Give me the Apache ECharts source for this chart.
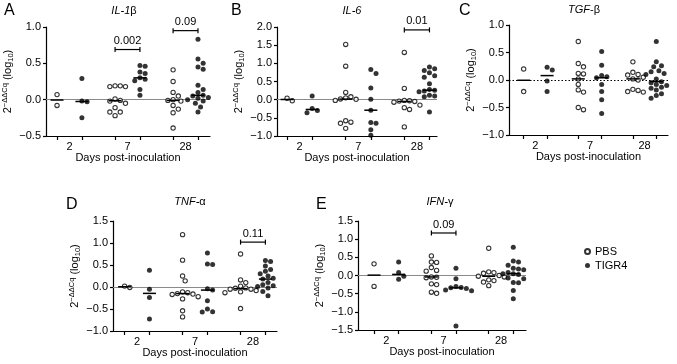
<!DOCTYPE html>
<html>
<head>
<meta charset="utf-8">
<script src="https://cdn.jsdelivr.net/npm/echarts@6/dist/echarts.min.js"></script>
<style>
  html, body { margin: 0; padding: 0; background: #fff; }
  #chart { width: 677px; height: 364px; }
</style>
</head>
<body>
<div id="chart"></div>
<script>
// x slots of the six groups: PBS d2, TIGR4 d2, PBS d7, TIGR4 d7, PBS d28, TIGR4 d28
var slots = [0, 3, 7, 10, 14, 17];
var days = ['2', '7', '28'];

// values per day (2, 7, 28), log10 of 2^-ddCq
var il1bPBS = [
  [0.07, -0.08],
  [0.19, 0.19, 0.18, 0.18, 0.01, -0.01, -0.02, -0.05, -0.11, -0.17, -0.17, -0.22],
  [0.41, 0.25, 0.10, 0.05, 0.00, -0.01, -0.02, -0.08, -0.13, -0.18, -0.39]
];
var il1bTIGR = [
  [0.29, -0.02, -0.03, -0.25],
  [0.47, 0.46, 0.38, 0.36, 0.30, 0.28, 0.26, 0.14, 0.06],
  [0.83, 0.56, 0.50, 0.45, 0.42, 0.20, 0.14, 0.10, 0.06, 0.05, 0.03, 0.02, 0.00, -0.02, -0.05, -0.10, -0.17]
];
var il6PBS = [
  [0.04, -0.03],
  [1.52, 0.92, 0.20, 0.08, 0.05, 0.02, 0.01, -0.02, -0.58, -0.62, -0.65, -0.79],
  [1.30, 0.31, -0.02, -0.03, -0.04, -0.05, -0.07, -0.15, -0.22, -0.27, -0.75]
];
var il6TIGR = [
  [0.10, -0.24, -0.30, -0.36],
  [0.83, 0.72, 0.32, 0.01, -0.29, -0.63, -0.65, -0.83, -0.98],
  [0.90, 0.85, 0.80, 0.74, 0.66, 0.62, 0.44, 0.28, 0.26, 0.24, 0.24, 0.22, 0.17, 0.12, 0.10, 0.08, -0.34]
];
var tgfPBS = [
  [0.20, -0.21],
  [0.70, 0.30, 0.24, 0.12, 0.11, 0.02, -0.08, -0.18, -0.22, -0.50, -0.54],
  [0.33, 0.14, 0.10, 0.09, 0.05, 0.02, 0.00, -0.17, -0.19, -0.21, -0.22]
];
var tgfTIGR = [
  [0.23, 0.18, -0.02, -0.21],
  [0.52, 0.27, 0.08, 0.06, 0.04, -0.08, -0.21, -0.36, -0.61],
  [0.70, 0.33, 0.26, 0.24, 0.17, 0.15, 0.12, 0.10, 0.02, -0.03, -0.05, -0.08, -0.10, -0.13, -0.15, -0.18, -0.25, -0.28, -0.33]
];
var tnfPBS = [
  [0.02, -0.01],
  [1.19, 0.61, 0.25, 0.14, -0.11, -0.13, -0.15, -0.16, -0.17, -0.22, -0.27, -0.54, -0.68],
  [0.75, 0.16, 0.10, 0.02, -0.02, -0.03, -0.05, -0.05, -0.08, -0.11, -0.13, -0.49]
];
var tnfTIGR = [
  [0.38, -0.05, -0.24, -0.73],
  [0.77, 0.52, 0.51, -0.04, -0.07, -0.31, -0.50, -0.56, -0.57],
  [0.60, 0.58, 0.48, 0.40, 0.36, 0.30, 0.25, 0.20, 0.18, 0.10, 0.05, 0.03, 0.01, -0.02, -0.06, -0.10, -0.20]
];
var ifnPBS = [
  [0.32, -0.30],
  [0.54, 0.37, 0.36, 0.22, 0.14, 0.12, -0.04, -0.05, -0.06, -0.23, -0.25, -0.46, -0.49],
  [0.75, 0.10, 0.08, 0.06, 0.00, -0.02, -0.04, -0.12, -0.14, -0.18, -0.28]
];
var ifnTIGR = [
  [0.37, 0.08, -0.02, -0.10],
  [0.20, -0.09, -0.30, -0.33, -0.34, -0.36, -0.40, -0.42, -1.39],
  [0.78, 0.40, 0.37, 0.28, 0.20, 0.18, 0.16, 0.08, 0.05, 0.05, 0.03, -0.07, -0.09, -0.19, -0.20, -0.41, -0.64]
];

// p values: [from group, to group, height, text]
var il1bP = [[2, 3, 0.69, '0.002'], [4, 5, 0.95, '0.09']];
var il6P = [[4, 5, 1.92, '0.01']];
var tnfP = [[4, 5, 1.02, '0.11']];
var ifnP = [[2, 3, 1.17, '0.09']];

var FONT = 'Liberation Sans, Arial, Helvetica, sans-serif';

var panels = [
  { letter: 'A', title: '{i|IL-1}{g|β}', pbs: il1bPBS, tigr: il1bTIGR, p: il1bP,
    grid: { left: 46, top: 27, width: 164, height: 109 }, x: [-1.33, 18.45], y: [-0.5, 1.0],
    nameGap: 16, titleX: 124, titleY: 5, letterX: 4, letterY: 3, zero: 'gray' },
  { letter: 'B', title: '{i|IL-6}', pbs: il6PBS, tigr: il6TIGR, p: il6P,
    grid: { left: 277, top: 27, width: 160, height: 109 }, x: [-1.2, 17.9], y: [-1.0, 2.0],
    nameGap: 26, titleX: 352, titleY: 5, letterX: 231, letterY: 3, zero: 'gray' },
  { letter: 'C', title: '{i|TGF}{g|-β}', pbs: tgfPBS, tigr: tgfTIGR, p: [],
    grid: { left: 509, top: 25, width: 159, height: 110 }, x: [-1.88, 18.5], y: [-1.0, 1.0],
    nameGap: 26, titleX: 584, titleY: 4, letterX: 459, letterY: 3, zero: 'dotted' },
  { letter: 'D', title: '{i|TNF-}{g|α}', pbs: tnfPBS, tigr: tnfTIGR, p: tnfP,
    grid: { left: 113, top: 221, width: 164, height: 110 }, x: [-1.4, 18.4], y: [-1.0, 1.5],
    nameGap: 29, titleX: 190, titleY: 196, letterX: 66, letterY: 197, zero: 'gray' },
  { letter: 'E', title: '{i|IFN-}{g|γ}', pbs: ifnPBS, tigr: ifnTIGR, p: ifnP,
    grid: { left: 358, top: 221, width: 168, height: 109 }, x: [-1.96, 18.55], y: [-1.5, 1.5],
    nameGap: 22, titleX: 440, titleY: 196, letterX: 316, letterY: 197, zero: 'gray' }
];

function median(arr) {
  var s = arr.slice().sort(function (a, b) { return a - b; });
  var m = Math.floor(s.length / 2);
  return s.length % 2 ? s[m] : (s[m - 1] + s[m]) / 2;
}

// simple beeswarm so close values sit side by side
function swarm(values, slot, pxX, pxY) {
  var D = 5.2, placed = [], out = [];
  values.slice().sort(function (a, b) { return b - a; }).forEach(function (v) {
    var py = v * pxY;
    for (var k = 0; k < 60; k++) {
      var off = (k % 2 ? 1 : -1) * Math.ceil(k / 2) * D / 2;
      var ok = placed.every(function (p) {
        return Math.sqrt((p[0] - off) * (p[0] - off) + (p[1] - py) * (p[1] - py)) >= D;
      });
      if (ok) {
        placed.push([off, py]);
        out.push([slot + off / pxX, v]);
        break;
      }
    }
  });
  return out;
}

function yFmt(v) {
  return (v < 0 ? '\u2212' : '') + Math.abs(v).toFixed(1);
}

var mids = days.map(function (d, i) { return (slots[2 * i] + slots[2 * i + 1]) / 2; });

var grids = [], xAxes = [], yAxes = [], series = [], titles = [];

panels.forEach(function (pn, i) {
  var g = pn.grid;
  grids.push({ left: g.left, top: g.top, width: g.width, height: g.height,
    containLabel: false, outerBoundsMode: 'none' });
  var pxX = g.width / (pn.x[1] - pn.x[0]);
  var pxY = g.height / (pn.y[1] - pn.y[0]);

  xAxes.push({
    gridIndex: i, type: 'value', min: pn.x[0], max: pn.x[1],
    axisLine: { show: true, onZero: false, lineStyle: { color: '#000', width: 1.2 } },
    axisTick: { show: true, customValues: slots, length: 4, lineStyle: { color: '#000', width: 1.2 } },
    axisLabel: { customValues: mids, margin: 5, fontSize: 11, color: '#000', fontFamily: FONT,
      formatter: function (v) {
        for (var d = 0; d < mids.length; d++) if (Math.abs(v - mids[d]) < 1e-6) return days[d];
        return '';
      } },
    splitLine: { show: false },
    name: 'Days post-inoculation', nameLocation: 'middle', nameGap: 15,
    nameTextStyle: { fontSize: 11, color: '#000', fontFamily: FONT }
  });

  yAxes.push({
    gridIndex: i, type: 'value', min: pn.y[0], max: pn.y[1], interval: 0.5,
    axisLine: { show: true, onZero: false, lineStyle: { color: '#000', width: 1.2 } },
    axisTick: { show: true, length: 3, lineStyle: { color: '#000', width: 1.2 } },
    axisLabel: { margin: 5, fontSize: 11, color: '#000', fontFamily: FONT, formatter: yFmt },
    splitLine: { show: false },
    name: '{n|2}{sup|\u2212\u0394\u0394Cq}{n| (log}{sub|10}{n|)}',
    nameLocation: 'middle', nameGap: pn.nameGap,
    nameTextStyle: {
      color: '#000', fontFamily: FONT,
      rich: {
        n: { fontSize: 11, fontFamily: FONT, color: '#000' },
        sup: { fontSize: 7.5, fontFamily: FONT, color: '#000', verticalAlign: 'top', padding: [0, 0, 6, 0] },
        sub: { fontSize: 7.5, fontFamily: FONT, color: '#000', verticalAlign: 'bottom', padding: [5, 0, 0, 0] }
      }
    }
  });

  var pbsData = [], tigrData = [], medData = [];
  for (var d = 0; d < 3; d++) {
    pbsData = pbsData.concat(swarm(pn.pbs[d], slots[2 * d], pxX, pxY));
    tigrData = tigrData.concat(swarm(pn.tigr[d], slots[2 * d + 1], pxX, pxY));
    medData.push([slots[2 * d], median(pn.pbs[d])]);
    medData.push([slots[2 * d + 1], median(pn.tigr[d])]);
  }

  var zeroStyle = pn.zero === 'dotted'
    ? { color: '#000', width: 1.2, type: [1.5, 2] }
    : { color: '#8a8a8a', width: 1, type: 'solid' };

  series.push({
    name: 'PBS', type: 'scatter', xAxisIndex: i, yAxisIndex: i,
    symbol: 'circle', symbolSize: 4.3, data: pbsData, z: 3,
    itemStyle: { color: '#fff', borderColor: '#000', borderWidth: 1.1 },
    markLine: { silent: true, symbol: 'none', label: { show: false }, z: 1,
      lineStyle: zeroStyle, data: [{ yAxis: 0 }] }
  });
  series.push({
    name: 'TIGR4', type: 'scatter', xAxisIndex: i, yAxisIndex: i,
    symbol: 'circle', symbolSize: 5, data: tigrData, z: 3,
    itemStyle: { color: '#000', borderWidth: 0 }
  });
  // median bars
  series.push({
    type: 'custom', xAxisIndex: i, yAxisIndex: i, data: medData, z: 4, silent: true,
    renderItem: function (params, api) {
      var c = api.coord([api.value(0), api.value(1)]);
      return { type: 'line', shape: { x1: c[0] - 6.5, y1: c[1], x2: c[0] + 6.5, y2: c[1] },
        style: { stroke: '#000', lineWidth: 1.5 } };
    }
  });
  // p value brackets
  if (pn.p.length) {
    var br = pn.p;
    series.push({
      type: 'custom', xAxisIndex: i, yAxisIndex: i, z: 4, silent: true,
      data: br.map(function (b) { return [slots[b[0]], slots[b[1]], b[2]]; }),
      renderItem: function (params, api) {
        var a = api.coord([api.value(0), api.value(2)]);
        var b = api.coord([api.value(1), api.value(2)]);
        var st = { stroke: '#000', lineWidth: 1.2 };
        return { type: 'group', children: [
          { type: 'line', shape: { x1: a[0], y1: a[1], x2: b[0], y2: b[1] }, style: st },
          { type: 'line', shape: { x1: a[0], y1: a[1] - 2.5, x2: a[0], y2: a[1] + 2.5 }, style: st },
          { type: 'line', shape: { x1: b[0], y1: b[1] - 2.5, x2: b[0], y2: b[1] + 2.5 }, style: st },
          { type: 'text', x: (a[0] + b[0]) / 2, y: a[1] - 3,
            style: { text: br[params.dataIndex][3], fontSize: 11, fontFamily: FONT, fill: '#000',
              align: 'center', verticalAlign: 'bottom' } }
        ] };
      }
    });
  }

  titles.push({ text: pn.letter, left: pn.letterX, top: pn.letterY, padding: 0,
    textStyle: { fontSize: 16, fontWeight: 'normal', color: '#000', fontFamily: FONT } });
  titles.push({ text: pn.title, left: pn.titleX, top: pn.titleY, padding: 0, textAlign: 'center',
    textStyle: { fontSize: 11, fontWeight: 'normal', color: '#000', fontFamily: FONT,
      rich: {
        i: { fontSize: 11, fontStyle: 'italic', fontFamily: FONT, color: '#000' },
        g: { fontSize: 11, fontFamily: FONT, color: '#000' }
      } } });
});

var chart = echarts.init(document.getElementById('chart'), null, { renderer: 'canvas' });
chart.setOption({
  animation: false,
  backgroundColor: '#fff',
  title: titles,
  legend: {
    data: ['PBS', 'TIGR4'], orient: 'vertical', left: 584, top: 246,
    itemWidth: 5, itemHeight: 5, itemGap: 3, padding: 0,
    textStyle: { fontSize: 11, color: '#000', fontFamily: FONT }
  },
  grid: grids,
  xAxis: xAxes,
  yAxis: yAxes,
  series: series
});
</script>
</body>
</html>
